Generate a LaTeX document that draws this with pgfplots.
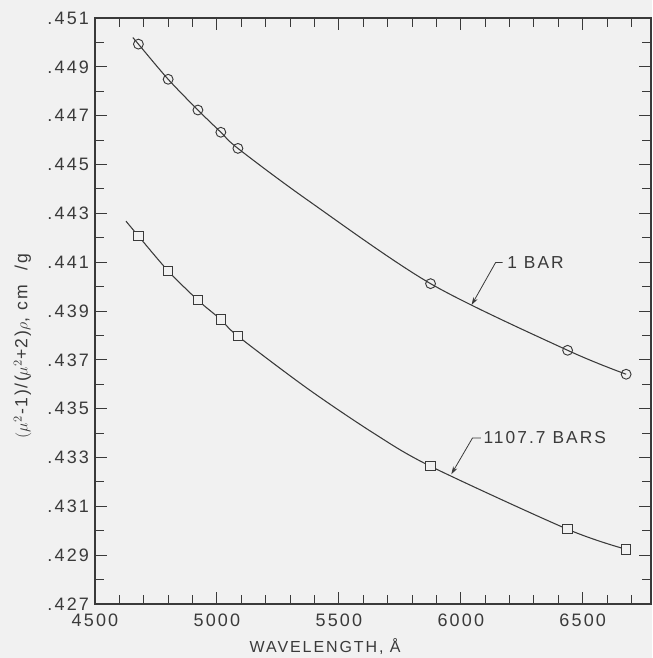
\documentclass[border=0pt]{standalone}
\usepackage{pgfplots}
\pgfplotsset{compat=1.18}
\usepackage{fontspec}
\setmainfont{Liberation Sans}[LetterSpace=12]
\usetikzlibrary{arrows.meta}
\definecolor{bg}{HTML}{F1F1F1}
\definecolor{ink}{HTML}{3A3A3A}
\pagecolor{bg}
\begin{document}
\begin{tikzpicture}
\begin{axis}[
  name=ax,
  scale only axis,
  width=417pt, height=439.5pt,
  xmin=4500, xmax=6780,
  ymin=0.427, ymax=0.451,
  axis line style={ink, line width=0.8pt},
  every tick/.style={ink, line width=0.7pt},
  major tick length=9pt,
  minor tick length=7pt,
  tick align=inside,
  xtick={4500,5000,5500,6000,6500},
  xticklabels={4500,5000,5500,6000,6500},
  minor xtick={4600,4700,4800,4900,5100,5200,5300,5400,5600,5700,5800,5900,6100,6200,6300,6400,6600,6700},
  ytick={0.427,0.429,0.431,0.433,0.435,0.437,0.439,0.441,0.443,0.445,0.447,0.449,0.451},
  yticklabels={.427,.429,.431,.433,.435,.437,.439,.441,.443,.445,.447,.449,.451},
  minor ytick={0.428,0.430,0.432,0.434,0.436,0.438,0.440,0.442,0.444,0.446,0.448,0.450},
  /pgf/number format/assume math mode=true,
  tick label style={font=\fontsize{13.5}{15}\selectfont, text=ink},
  xticklabel style={yshift=-4pt},
  yticklabel style={xshift=-1pt},
  xlabel={WAVELENGTH, Å},
  xlabel style={at={(axis description cs:0.414,0)}, anchor=base, inner sep=0pt, yshift=-36pt, font=\fontsize{12}{14}\selectfont, text=ink},
  ylabel={$(\mu^2$\kern1pt-\kern1pt1)\kern1pt/\kern1pt($\mu^2$+\kern1pt2)$\rho$, cm\ \ /g},
  ylabel style={at={(axis description cs:-0.13,0.44)}, anchor=center, font=\fontsize{13.2}{15}\selectfont, text=ink},
  clip=false,
]
% fitted curves
\addplot[ink, line width=0.8pt, smooth, tension=0.5] coordinates {
 (4655,0.45020) (4678,0.44993) (4800,0.44849) (4922,0.44723) (5016,0.44632) (5086,0.44566)
 (5372,0.44354) (5876,0.44012) (6438,0.43739) (6678,0.43641)};
\addplot[ink, line width=0.8pt, smooth, tension=0.5] coordinates {
 (4627,0.44268) (4678,0.44207) (4800,0.44064) (4922,0.43944) (5016,0.43865) (5086,0.43797)
 (5372,0.43582) (5645,0.43398) (5876,0.43264) (6438,0.43006) (6678,0.42924)};
% data points
\addplot[only marks, mark=o, mark size=3.7pt, mark options={draw=ink, fill=bg, line width=0.7pt}] coordinates {
 (4678,0.44993) (4800,0.44849) (4922,0.44723) (5016,0.44632) (5086,0.44566)
 (5876,0.44012) (6438,0.43739) (6678,0.43641)};
\addplot[only marks, mark=square*, mark size=3.5pt, mark options={draw=ink, fill=bg, line width=0.7pt}] coordinates {
 (4678,0.44207) (4800,0.44064) (4922,0.43944) (5016,0.43865) (5086,0.43797)
 (5876,0.43264) (6438,0.43006) (6678,0.42924)};
% annotations
\draw[ink, line width=0.6pt, -{Stealth[length=6pt,width=3.5pt]}] (axis cs:6171,0.44099) -- (axis cs:6143,0.44099) -- (axis cs:6044,0.43924);
\node[anchor=west, inner sep=0pt, text=ink, font=\fontsize{13}{15}\selectfont] at (axis cs:6190,0.44099) {1 BAR};
\draw[ink, line width=0.6pt, -{Stealth[length=6pt,width=3.5pt]}] (axis cs:6082,0.43380) -- (axis cs:6048,0.43380) -- (axis cs:5961,0.43231);
\node[anchor=west, inner sep=0pt, text=ink, font=\fontsize{13}{15}\selectfont] at (axis cs:6092,0.43380) {1107.7 BARS};
\end{axis}
\pgfresetboundingbox
\path[use as bounding box] ([shift={(-71.25pt,-40.5pt)}]ax.south west) rectangle ([shift={(0.75pt,13.5pt)}]ax.north east);
\end{tikzpicture}
\end{document}
